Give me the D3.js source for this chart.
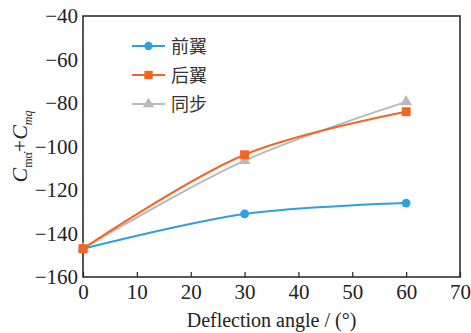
<!DOCTYPE html>
<html>
<head>
<meta charset="utf-8">
<script src="https://cdn.jsdelivr.net/npm/d3@7"></script>
<style>
  body { margin: 0; background: #fff; }
</style>
</head>
<body>
<div id="chart"></div>
<script>
// data
const angles = [0, 30, 60];
const seriesNames = ["前翼", "后翼", "同步"];
const frontWing = [-147, -131, -126];
const rearWing = [-147, -103.8, -84];
const synchronous = [-147, -106.5, -79.5];
const xTicks = [0, 10, 20, 30, 40, 50, 60, 70];
const yTicks = [-160, -140, -120, -100, -80, -60, -40];

const colors = ["#2f9fe0", "#f26522", "#b9b9b9"];
const shapes = [d3.symbolCircle, d3.symbolSquare, d3.symbolTriangle];
const serif = "Liberation Serif";

const width = 471, height = 333;
const margin = { left: 83, right: 11, top: 16, bottom: 56 };

const svg = d3.select("#chart").append("svg")
  .attr("width", width).attr("height", height);

const x = d3.scaleLinear().domain([0, 70]).range([margin.left, width - margin.right]);
const y = d3.scaleLinear().domain([-160, -40]).range([height - margin.bottom, margin.top]);

// frame
svg.append("rect")
  .attr("x", x(0)).attr("y", y(-40))
  .attr("width", x(70) - x(0)).attr("height", y(-160) - y(-40))
  .attr("fill", "none").attr("stroke", "#222").attr("stroke-width", 1.5);

// x axis, ticks point inward
const xAxis = svg.append("g")
  .attr("transform", `translate(0,${y(-160)})`)
  .call(d3.axisBottom(x).tickValues(xTicks).tickSizeInner(-5).tickSizeOuter(0).tickPadding(7));
xAxis.attr("font-family", serif).attr("font-size", 21);
xAxis.select(".domain").remove();
xAxis.selectAll("line").attr("stroke", "#222").attr("stroke-width", 1.2);
xAxis.selectAll("text").attr("fill", "#222");

// y axis, no visible ticks
const yAxis = svg.append("g")
  .attr("transform", `translate(${x(0)},0)`)
  .call(d3.axisLeft(y).tickValues(yTicks).tickSize(0).tickPadding(5)
    .tickFormat(d => String(d).replace("-", "\u2212")));
yAxis.attr("font-family", serif).attr("font-size", 21);
yAxis.select(".domain").remove();
yAxis.selectAll("text").attr("fill", "#222");

// axis titles
svg.append("text")
  .attr("x", (x(0) + x(70)) / 2).attr("y", 327)
  .attr("text-anchor", "middle")
  .attr("font-family", serif).attr("font-size", 20).attr("fill", "#222")
  .text("Deflection angle / (°)");

const yl = svg.append("text")
  .attr("transform", `translate(27,${(y(-40) + y(-160)) / 2}) rotate(-90)`)
  .attr("text-anchor", "middle")
  .attr("font-family", serif).attr("font-size", 22).attr("fill", "#222");
yl.append("tspan").attr("font-style", "italic").text("C");
yl.append("tspan").attr("font-size", 12).attr("dy", 5).text("m\u03B1\u0307");
yl.append("tspan").attr("dy", -5).text("+");
yl.append("tspan").attr("font-style", "italic").text("C");
yl.append("tspan").attr("font-size", 12).attr("dy", 5).attr("font-style", "italic").text("mq");

// series
const allSeries = [frontWing, rearWing, synchronous];
const line = d3.line()
  .x((d, i) => x(angles[i]))
  .y(d => y(d))
  .curve(d3.curveCatmullRom.alpha(0.5));

const drawOrder = [2, 0, 1];
drawOrder.forEach(k => {
  const vals = allSeries[k];
  svg.append("path")
    .attr("d", line(vals))
    .attr("fill", "none")
    .attr("stroke", colors[k])
    .attr("stroke-width", 2);
  svg.append("g").selectAll("path")
    .data(vals)
    .join("path")
    .attr("transform", (d, i) => `translate(${x(angles[i])},${y(d)})`)
    .attr("d", d3.symbol().type(shapes[k]).size(k === 1 ? 80 : 60))
    .attr("fill", colors[k]);
});

// legend
const legend = svg.append("g");
seriesNames.forEach((name, k) => {
  const ly = 46 + k * 29;
  legend.append("line")
    .attr("x1", 132).attr("x2", 165).attr("y1", ly).attr("y2", ly)
    .attr("stroke", colors[k]).attr("stroke-width", 2);
  legend.append("path")
    .attr("transform", `translate(148.5,${ly})`)
    .attr("d", d3.symbol().type(shapes[k]).size(k === 1 ? 70 : 55))
    .attr("fill", colors[k]);
  legend.append("text")
    .attr("x", 171).attr("y", ly + 7)
    .attr("font-family", "Noto Sans CJK SC")
    .attr("font-size", 18).attr("fill", "#333")
    .text(name);
});
</script>
</body>
</html>
